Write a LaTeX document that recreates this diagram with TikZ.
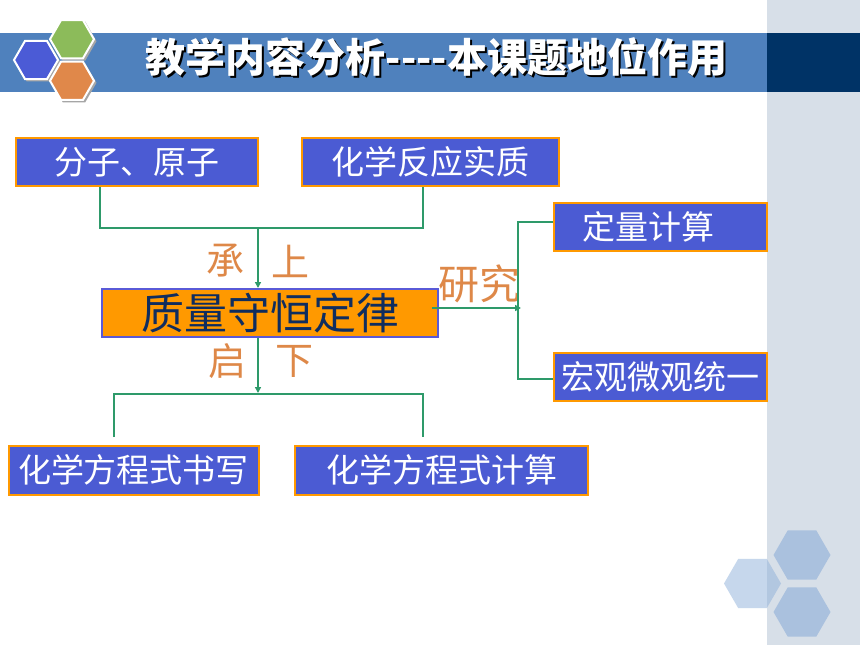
\documentclass[tikz,border=0pt]{standalone}
\usepackage{fontspec}
\newfontfamily\cjk{Noto Sans CJK SC}
\usetikzlibrary{arrows.meta}
\definecolor{boxblue}{RGB}{75,91,211}
\definecolor{boxorange}{RGB}{255,153,0}
\definecolor{qborder}{RGB}{90,90,215}
\definecolor{lineg}{RGB}{46,154,106}
\definecolor{labelor}{RGB}{222,136,72}
\definecolor{navyband}{RGB}{0,51,102}
\definecolor{band}{RGB}{79,129,189}
\definecolor{panel}{RGB}{215,223,232}
\definecolor{textnavy}{RGB}{15,45,95}
\definecolor{hexblue}{RGB}{75,91,214}
\definecolor{hexgreen}{RGB}{140,187,90}
\definecolor{hexorange}{RGB}{224,136,74}
\definecolor{hexlight}{RGB}{170,193,222}
\definecolor{hexleft}{RGB}{142,176,218}
\newcommand\hexag[3]{\path[#3] (#1) ++(#2,0) -- ++(120:#2) -- ++(180:#2) -- ++(240:#2) -- ++(300:#2) -- ++(0:#2) -- cycle;}
\begin{document}
\begin{tikzpicture}[x=1pt,y=-1pt,
  bbox/.style={draw=boxorange, fill=boxblue, line width=2pt, text=white,
    font=\cjk\fontsize{33}{36}\selectfont, inner sep=0pt, anchor=north west,
    minimum height=48pt},
  qbox/.style={draw=qborder, fill=boxorange, line width=2pt, text=textnavy,
    font=\cjk\fontsize{43}{46}\selectfont, inner sep=0pt, anchor=north west,
    minimum height=48pt},
  conn/.style={draw=lineg, line width=1.8pt},
  arr/.style={conn, -{Triangle[length=6pt,width=6pt]}},
  lbl/.style={text=labelor, font=\cjk\fontsize{38}{40}\selectfont, inner sep=0pt},
  titlefont/.style={font=\cjk\bfseries\fontsize{40}{44}\selectfont, inner sep=0pt}]
\useasboundingbox (0,0) rectangle (860,645);
\fill[white] (0,0) rectangle (860,645);
% right panel and header band
\fill[panel] (767,0) rectangle (860,645);
\fill[band] (0,32.5) rectangle (767,92);
\fill[navyband] (767,32.5) rectangle (860,92);
% top-left hexagons
\hexag{38,62}{22.5}{fill=black!35}
\hexag{74,41.2}{22.5}{fill=black!35}
\hexag{74,82.8}{22.5}{fill=black!35}
\hexag{36,60}{22}{fill=hexblue, draw=white, line width=2pt}
\hexag{72,39.2}{22}{fill=hexgreen, draw=white, line width=2pt}
\hexag{72,80.8}{22}{fill=hexorange, draw=white, line width=2pt}
% bottom-right hexagons
\hexag{802,555}{28.5}{fill=hexlight}
\hexag{802,612}{28.5}{fill=hexlight}
\hexag{752.5,583.5}{28.5}{fill=hexleft, fill opacity=0.5}
% title
\node[titlefont, text=black] (tshadow) at (438.5,59.5) {教学内容分析----本课题地位作用};
\node[titlefont, text=white] (title) at (436.5,57.5) {教学内容分析----本课题地位作用};
% boxes
\node[bbox, minimum width=242pt] (A) at (15,137) {分子、原子};
\node[bbox, minimum width=257pt] (B) at (301,137) {化学反应实质};
\node[qbox, minimum width=336pt] (Q) at (101,288) {质量守恒定律};
\node[bbox, minimum width=213pt] (C) at (553,202) {定量计算\hspace*{24pt}};
\node[bbox, minimum width=213pt] (D) at (553,352) {宏观微观统一};
\node[bbox, minimum width=250pt, minimum height=49pt] (E) at (7.5,444.5) {化学方程式书写};
\node[bbox, minimum width=293pt, minimum height=49pt] (F) at (294,444.5) {化学方程式计算};
% labels
\node[lbl] (l1) at (225.5,261) {承};
\node[lbl] (l2) at (290.5,261) {上};
\node[lbl] (l3) at (227.5,361) {启};
\node[lbl] (l4) at (294,361) {下};
\node[lbl, font=\cjk\fontsize{41}{44}\selectfont] (l5) at (479,284) {研究};
% connectors top
\coordinate (a1) at (100,228);
\coordinate (b1) at (423,228);
\coordinate (m1) at (258,228);
\draw[conn] (A.south -| a1) -- (a1) -- (b1) -- (B.south -| b1);
\draw[arr] (m1) -- (m1 |- Q.north);
% right connectors
\coordinate (r1) at (521,308);
\draw[arr] ([xshift=-7pt]Q.east |- r1) -- (r1);
\coordinate (v1) at (518,222);
\coordinate (v2) at (518,379);
\draw[conn] (C.west |- v1) -- (v1) -- (v2) -- (D.west |- v2);
% lower connectors
\coordinate (m2) at (258,393);
\draw[arr] (Q.south -| m2) -- (m2);
\coordinate (e1) at (114,394);
\coordinate (f1) at (423,394);
\coordinate (e2) at (114,437);
\coordinate (f2) at (423,437);
\draw[conn] (e2) -- (e1) -- (f1) -- (f2);
\end{tikzpicture}
\end{document}
